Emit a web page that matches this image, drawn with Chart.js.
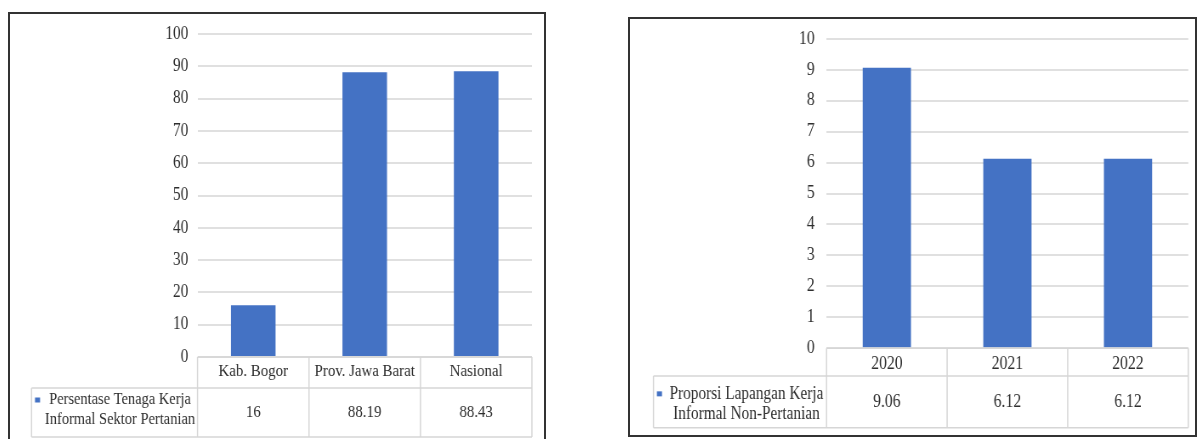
<!DOCTYPE html>
<html>
<head>
<meta charset="utf-8">
<script src="https://cdn.jsdelivr.net/npm/chart.js@4.4.1/dist/chart.umd.min.js"></script>
<style>
  body { margin: 0; background: #fff; width: 1198px; height: 439px; overflow: hidden; position: relative; }
  .frame { position: absolute; box-sizing: border-box; border: 2px solid #333; background: #fff; overflow: hidden; }
  /* the charts are drawn wide and squeezed, giving the narrow serif look */
  .frame canvas { position: absolute; left: 0; top: 0; transform: scaleX(0.85); transform-origin: 0 0; }
</style>
</head>
<body>
<div class="frame" style="left:8px; top:12px; width:538px; height:440px;">
  <canvas id="agriChart" width="628" height="426"></canvas>
</div>
<div class="frame" style="left:628px; top:17px; width:569px; height:420px;">
  <canvas id="nonAgriChart" width="664" height="416"></canvas>
</div>
<script>
// Informal workers in agriculture, by region (%)
const regionLabels = ['Kab. Bogor', 'Prov. Jawa Barat', 'Nasional'];
const agriInformalShare = [16, 88.19, 88.43];
const agriSeriesName = ['Persentase Tenaga Kerja', 'Informal Sektor Pertanian'];
const agriAxisMax = 100;
const agriAxisStep = 10;

// Informal non-agricultural jobs, by year
const yearLabels = ['2020', '2021', '2022'];
const nonAgriInformalShare = [9.06, 6.12, 6.12];
const nonAgriSeriesName = ['Proporsi Lapangan Kerja', 'Informal Non-Pertanian'];
const nonAgriAxisMax = 10;
const nonAgriAxisStep = 1;

const barColor = '#4472C4';
const textColor = '#2e2e2e';
const gridColor = '#e0e0e0';
const tableColor = '#d6d6d6';
const serif = '"Liberation Serif", "DejaVu Serif", serif';

// Excel style data table drawn under the category axis
const dataTablePlugin = {
  id: 'dataTable',
  afterDraw(chart, args, opts) {
    const ctx = chart.ctx;
    const x = chart.scales.x;
    const ds = chart.data.datasets[0];
    const n = chart.data.labels.length;
    const colW = (x.right - x.left) / n;
    const rowTop = x.bottom;
    const rowBottom = rowTop + opts.rowHeight;
    const midY = (rowTop + rowBottom) / 2;

    ctx.save();
    ctx.strokeStyle = tableColor;
    ctx.lineWidth = 1.5;
    const line = (x1, y1, x2, y2) => {
      ctx.beginPath();
      ctx.moveTo(x1, y1);
      ctx.lineTo(x2, y2);
      ctx.stroke();
    };
    line(x.left, x.top, x.right, x.top);
    line(opts.left, rowTop, x.right, rowTop);
    line(opts.left, rowBottom, x.right, rowBottom);
    line(opts.left, rowTop, opts.left, rowBottom);
    for (let i = 0; i <= n; i++) {
      const xi = x.left + i * colW;
      line(xi, x.top, xi, rowBottom);
    }

    // values row
    ctx.fillStyle = textColor;
    ctx.font = opts.valueSize + 'px ' + serif;
    ctx.textAlign = 'center';
    ctx.textBaseline = 'middle';
    ds.data.forEach((v, i) => ctx.fillText(String(v), x.getPixelForValue(i), midY));

    // series key and its two-line name
    const firstLine = midY - 10 + opts.nameShift;
    ctx.font = opts.nameSize + 'px ' + serif;
    opts.nameLines.forEach((t, i) => ctx.fillText(t, opts.nameCenter, firstLine + i * 20));
    ctx.fillStyle = ds.backgroundColor;
    ctx.fillRect(opts.keyX, firstLine - 2.5, 6, 5);
    ctx.restore();
  }
};

function makeChart(id, labels, values, nameLines, axisMax, axisStep, layout) {
  return new Chart(document.getElementById(id), {
    type: 'bar',
    data: {
      labels: labels,
      datasets: [{
        label: nameLines.join(' '),
        data: values,
        backgroundColor: barColor,
        categoryPercentage: 1,
        barPercentage: 0.4
      }]
    },
    options: {
      responsive: false,
      animation: false,
      devicePixelRatio: 1,
      layout: { padding: layout.padding },
      plugins: {
        legend: { display: false },
        tooltip: { enabled: false },
        dataTable: {
          rowHeight: layout.rowHeight,
          left: layout.tableLeft,
          keyX: layout.keyX,
          nameCenter: layout.nameCenter,
          nameShift: layout.nameShift,
          nameSize: layout.nameSize,
          valueSize: layout.textSize,
          nameLines: nameLines
        }
      },
      scales: {
        x: {
          grid: { display: false },
          border: { display: false },
          ticks: { color: textColor, font: { family: serif, size: layout.textSize }, padding: layout.catPad },
          afterFit: s => { s.height = layout.catHeight; }
        },
        y: {
          min: 0,
          max: axisMax,
          grid: { color: gridColor, lineWidth: 2, drawTicks: false },
          border: { display: false },
          ticks: { stepSize: axisStep, color: textColor, font: { family: serif, size: layout.tickSize }, padding: layout.tickPad },
          afterFit: s => {
            // fixed axis width; no extra room above the top tick
            s.width = layout.axisWidth;
            s.paddingTop = 0;
            s.paddingBottom = 0;
          }
        }
      }
    },
    plugins: [dataTablePlugin]
  });
}

makeChart('agriChart', regionLabels, agriInformalShare, agriSeriesName, agriAxisMax, agriAxisStep, {
  padding: { left: 0, top: 20, right: 14, bottom: 52 },
  axisWidth: 220.6,
  tickPad: 10.9,
  tickSize: 18,
  textSize: 17.5,
  catHeight: 31,
  catPad: -3.8,
  rowHeight: 49,
  tableLeft: 25.3,
  keyX: 29.4,
  nameCenter: 129.4,
  nameShift: -2.5,
  nameSize: 17
});

makeChart('nonAgriChart', yearLabels, nonAgriInformalShare, nonAgriSeriesName, nonAgriAxisMax, nonAgriAxisStep, {
  padding: { left: 0, top: 19.7, right: 7.2, bottom: 59 },
  axisWidth: 231.2,
  tickPad: 14,
  tickSize: 18.5,
  textSize: 18.5,
  catHeight: 27.7,
  catPad: -3.1,
  rowHeight: 51.7,
  tableLeft: 27.6,
  keyX: 31.6,
  nameCenter: 137,
  nameShift: 2,
  nameSize: 18
});
</script>
</body>
</html>
